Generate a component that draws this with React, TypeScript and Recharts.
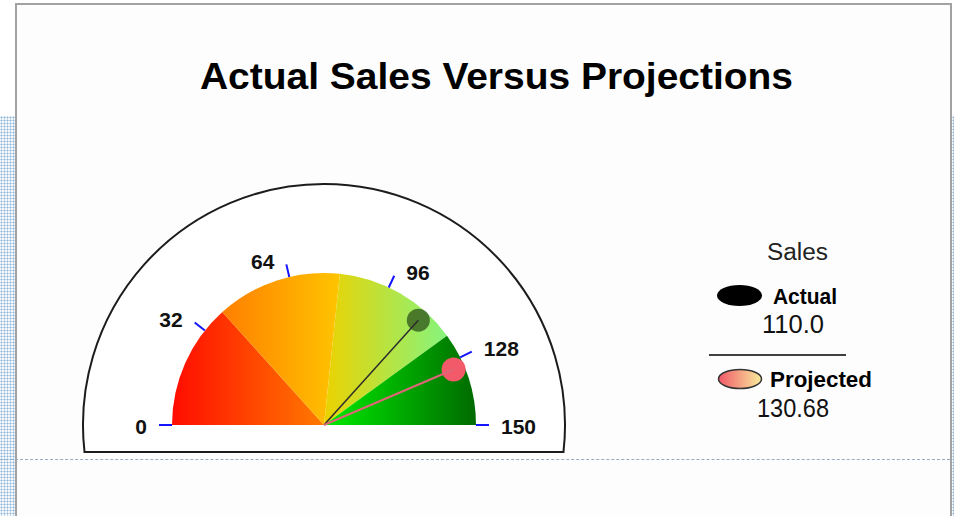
import { PieChart, Pie, Cell, Legend } from 'recharts';

// chart values
const chartTitle = 'Actual Sales Versus Projections';
const bandNames = ['0-40', '40-80', '80-120', '120-150'];
const bandValues = [40, 40, 40, 30];
const bandColors = [
  ['#ff0c00', '#ff7a00'],
  ['#ff7f00', '#ffc400'],
  ['#ecd200', '#86f47e'],
  ['#00ec00', '#006a00'],
];
const axisTicks = [0, 32, 64, 96, 128, 150];
const gaugeMax = 150;
const legendTitle = 'Sales';
const seriesNames = ['Actual', 'Projected'];
const seriesValues = [110.0, 130.68];
const seriesLabels = ['110.0', '130.68'];

// geometry
const CX = 324;
const CY = 425;
const R = 152;
const CASE_R = 241;
const NEEDLE_R = 141;
const TICK_LEN = 13;

const bandData = bandNames.map((name, i) => ({ name, value: bandValues[i] }));
const tickData = axisTicks.slice(1).map((t, i) => ({ name: `${axisTicks[i]}-${t}`, value: t - axisTicks[i] }));
const needleData = seriesNames.map((name, i) => [
  { name, value: seriesValues[i] },
  { name: 'rest', value: gaugeMax - seriesValues[i] },
]);

const needleStyles = [
  { line: '#2c2c2c', lineWidth: 1.5, fill: 'rgba(34,66,18,0.68)', r: 11.5 },
  { line: '#de6676', lineWidth: 2, fill: '#f25a6a', r: 12 },
];

const FONT = 'Arial, "Liberation Sans", Helvetica, sans-serif';

function Casing() {
  const off = 27;
  const dx = Math.sqrt(CASE_R * CASE_R - off * off);
  const d = `M ${CX - dx} ${CY + off} A ${CASE_R} ${CASE_R} 0 1 1 ${CX + dx} ${CY + off} Z`;
  return (
    <svg width={954} height={516} style={{ position: 'absolute', left: 0, top: 0 }}>
      <text
        x={200}
        y={89}
        textLength={593}
        lengthAdjust="spacingAndGlyphs"
        fontFamily={FONT}
        fontWeight="bold"
        fontSize={37}
        fill="#000"
      >
        {chartTitle}
      </text>
      <path d={d} fill="#fff" stroke="#1c1c1c" strokeWidth={2} />
    </svg>
  );
}

function tickMark(cx: number, cy: number, angle: number, value: number, key: string) {
  const a = (angle * Math.PI) / 180;
  const cos = Math.cos(a);
  const sin = Math.sin(a);
  const x1 = cx + R * cos;
  const y1 = cy - R * sin;
  const x2 = cx + (R + TICK_LEN) * cos;
  const y2 = cy - (R + TICK_LEN) * sin;
  let anchor = 'middle';
  let dx = 0;
  if (cos < -0.01) {
    anchor = 'end';
    dx = -12;
  } else if (cos > 0.01) {
    anchor = 'start';
    dx = 12;
  }
  const flat = Math.abs(sin) < 0.01;
  return (
    <g key={key}>
      <line x1={x1} y1={y1} x2={x2} y2={y2} stroke="#1414ff" strokeWidth={2} />
      <text
        x={x2 + dx}
        y={y2 + (flat ? 1 : -3)}
        textAnchor={anchor}
        dominantBaseline="central"
        fontFamily={FONT}
        fontWeight="bold"
        fontSize={21}
        fill="#111"
      >
        {value}
      </text>
    </g>
  );
}

function renderTick(props: any) {
  const i = props.index;
  const last = i === tickData.length - 1;
  return (
    <g>
      {tickMark(props.cx, props.cy, props.startAngle, axisTicks[i], 's')}
      {last && tickMark(props.cx, props.cy, props.endAngle, axisTicks[i + 1], 'e')}
    </g>
  );
}

function makeNeedle(idx: number) {
  const st = needleStyles[idx];
  return (props: any) => {
    if (props.index !== 0) return null;
    const a = (props.endAngle * Math.PI) / 180;
    const ex = props.cx + NEEDLE_R * Math.cos(a);
    const ey = props.cy - NEEDLE_R * Math.sin(a);
    return (
      <g>
        <circle cx={ex} cy={ey} r={st.r} fill={st.fill} />
        <line x1={props.cx} y1={props.cy} x2={ex} y2={ey} stroke={st.line} strokeWidth={st.lineWidth} />
      </g>
    );
  };
}

function SalesLegend() {
  return (
    <svg width={190} height={200}>
      <defs>
        <linearGradient id="projLegend" x1="0" y1="0" x2="1" y2="0">
          <stop offset="0%" stopColor="#f05868" />
          <stop offset="100%" stopColor="#f8ec9c" />
        </linearGradient>
      </defs>
      <text x={97.5} y={25} textAnchor="middle" fontFamily={FONT} fontSize={23} fill="#222" textLength={61} lengthAdjust="spacingAndGlyphs">
        {legendTitle}
      </text>
      <ellipse cx={39.5} cy={60.5} rx={22.5} ry={10.5} fill="#000" />
      <text x={73} y={69} fontFamily={FONT} fontWeight="bold" fontSize={22} fill="#000" textLength={64} lengthAdjust="spacingAndGlyphs">
        {seriesNames[0]}
      </text>
      <text x={93} y={98} textAnchor="middle" fontFamily={FONT} fontSize={26} fill="#111" textLength={62} lengthAdjust="spacingAndGlyphs">
        {seriesLabels[0]}
      </text>
      <line x1={9} y1={120} x2={146} y2={120} stroke="#000" strokeWidth={1.5} />
      <ellipse cx={40} cy={144} rx={21.5} ry={9.5} fill="url(#projLegend)" stroke="#333" strokeWidth={1.5} />
      <text x={70} y={152} fontFamily={FONT} fontWeight="bold" fontSize={22} fill="#000" textLength={102} lengthAdjust="spacingAndGlyphs">
        {seriesNames[1]}
      </text>
      <text x={93} y={182} textAnchor="middle" fontFamily={FONT} fontSize={26} fill="#111" textLength={72} lengthAdjust="spacingAndGlyphs">
        {seriesLabels[1]}
      </text>
    </svg>
  );
}

const dotted = {
  backgroundColor: '#f4f8fc',
  backgroundImage: 'radial-gradient(#8fb6d8 0.8px, transparent 1.2px)',
  backgroundSize: '3px 3px',
};

export default function App() {
  return (
    <div style={{ position: 'absolute', left: 0, top: 0, width: 954, height: 516, overflow: 'hidden', background: '#fff' }}>
      <div style={{ position: 'absolute', left: 0, top: 116, width: 15, height: 400, ...dotted }} />
      <div style={{ position: 'absolute', left: 952, top: 116, width: 2, height: 400, ...dotted }} />
      <div
        style={{
          position: 'absolute',
          left: 15,
          top: 3,
          width: 933,
          height: 540,
          border: '2px solid #a2a2a2',
          background: '#fdfdfd',
        }}
      />
      <div style={{ position: 'absolute', left: 0, top: 459, width: 950, height: 0, borderTop: '1px dashed #93adc4' }} />
      <Casing />
      <div style={{ position: 'absolute', left: 0, top: 0 }}>
        <PieChart width={954} height={516} margin={{ top: 0, right: 0, bottom: 0, left: 0 }}>
          <defs>
            {bandColors.map((c, i) => (
              <linearGradient key={i} id={`band${i}`} x1="0" y1="0" x2="1" y2="0">
                <stop offset="0%" stopColor={c[0]} />
                <stop offset="100%" stopColor={c[1]} />
              </linearGradient>
            ))}
          </defs>
          <Pie
            data={bandData}
            dataKey="value"
            cx={CX}
            cy={CY}
            innerRadius={0}
            outerRadius={R}
            startAngle={180}
            endAngle={0}
            stroke="none"
            isAnimationActive={false}
          >
            {bandData.map((b, i) => (
              <Cell key={b.name} fill={`url(#band${i})`} />
            ))}
          </Pie>
          <Pie
            data={tickData}
            dataKey="value"
            cx={CX}
            cy={CY}
            innerRadius={R}
            outerRadius={R}
            startAngle={180}
            endAngle={0}
            fill="transparent"
            stroke="none"
            labelLine={false}
            label={renderTick}
            isAnimationActive={false}
          />
          {needleData.map((d, i) => (
            <Pie
              key={seriesNames[i]}
              data={d}
              dataKey="value"
              cx={CX}
              cy={CY}
              innerRadius={0}
              outerRadius={NEEDLE_R}
              startAngle={180}
              endAngle={0}
              fill="transparent"
              stroke="none"
              labelLine={false}
              label={makeNeedle(i)}
              isAnimationActive={false}
            />
          ))}
          <Legend
            content={<SalesLegend />}
            wrapperStyle={{ position: 'absolute', left: 700, top: 235, width: 190, height: 200 }}
          />
        </PieChart>
      </div>
    </div>
  );
}
